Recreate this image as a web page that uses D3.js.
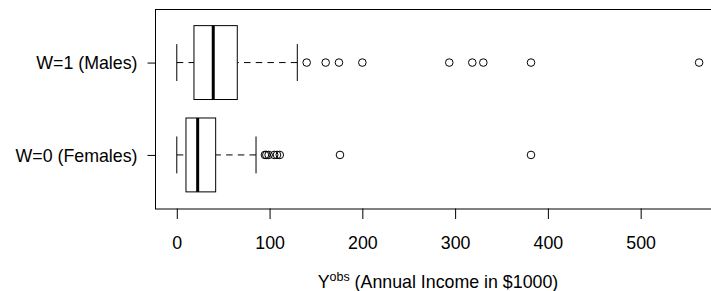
<!DOCTYPE html>
<html lang="en">
<head>
  <meta charset="UTF-8" />
  <title>Annual income by sex</title>
  <script src="https://d3js.org/d3.v7.min.js"></script>
  <style>
    body { margin: 0; background: #fff; }
    svg { display: block; font-family: 'Liberation Sans', Arial, sans-serif; }
    .tick text { font-size: 17.8px; fill: #000; }
    .tick line { stroke: #000; }
  </style>
</head>
<body>
<script>
  // groups, bottom to top (R boxplot order)
  const categories = ["W=0 (Females)", "W=1 (Males)"];
  // five-number stats: lower whisker, Q1, median, Q3, upper whisker
  const femaleStats = [0, 9.9, 22.5, 41.9, 85.4];
  const maleStats = [0, 18.5, 39.3, 65.2, 129.9];
  const femaleOutliers = [95, 96.5, 99, 105, 108, 111, 175.9, 381.8];
  const maleOutliers = [140, 160.5, 174.8, 200, 293.7, 318.5, 330.4, 381.8, 563];
  const xTicks = [0, 100, 200, 300, 400, 500];

  const stats = [femaleStats, maleStats];
  const outliers = [femaleOutliers, maleOutliers];

  const width = 711, height = 291;
  const plotLeft = 155.9, plotTop = 9, plotBottom = 208.5, plotRight = 720;

  const svg = d3.select("body").append("svg")
    .attr("width", width)
    .attr("height", height);

  // R style 4% extension of the data range
  const allVals = stats.flat().concat(outliers.flat());
  const lo = d3.min(allVals), hi = d3.max(allVals);
  const pad = (hi - lo) * 0.04;
  const x = d3.scaleLinear().domain([lo - pad, hi + pad]).range([plotLeft, plotRight]);
  const y = d3.scaleLinear().domain([0.42, 2.58]).range([plotBottom, plotTop]);

  const boxHalf = 0.4, capHalf = 0.2;

  const g = svg.append("g");

  stats.forEach((s, i) => {
    const pos = i + 1;
    const yc = y(pos);
    const yb0 = y(pos - boxHalf), yb1 = y(pos + boxHalf);
    const yc0 = y(pos - capHalf), yc1 = y(pos + capHalf);

    // whiskers, drawn from the cap toward the box
    g.append("line")
      .attr("x1", x(s[0])).attr("x2", x(s[1]))
      .attr("y1", yc).attr("y2", yc)
      .attr("stroke", "#000").attr("stroke-dasharray", "6.5,5.2");
    g.append("line")
      .attr("x1", x(s[4])).attr("x2", x(s[3]))
      .attr("y1", yc).attr("y2", yc)
      .attr("stroke", "#000").attr("stroke-dasharray", "6.5,5.2");

    // caps
    [s[0], s[4]].forEach(v => {
      g.append("line")
        .attr("x1", x(v)).attr("x2", x(v))
        .attr("y1", yc0).attr("y2", yc1)
        .attr("stroke", "#000");
    });

    // box
    g.append("rect")
      .attr("x", x(s[1])).attr("width", x(s[3]) - x(s[1]))
      .attr("y", yb1).attr("height", yb0 - yb1)
      .attr("fill", "#fff").attr("stroke", "#000");

    // median
    g.append("line")
      .attr("x1", x(s[2])).attr("x2", x(s[2]))
      .attr("y1", yb1).attr("y2", yb0)
      .attr("stroke", "#000").attr("stroke-width", 3);

    // outliers
    g.selectAll(null)
      .data(outliers[i])
      .enter().append("circle")
      .attr("cx", d => x(d))
      .attr("cy", yc)
      .attr("r", 3.8)
      .attr("fill", "none")
      .attr("stroke", "#000");
  });

  // frame
  svg.append("rect")
    .attr("x", plotLeft - 0.4).attr("y", plotTop + 0.5)
    .attr("width", plotRight - plotLeft + 10).attr("height", plotBottom - plotTop)
    .attr("fill", "none").attr("stroke", "#000");

  // x axis
  svg.append("g")
    .attr("transform", `translate(0,${plotBottom})`)
    .call(d3.axisBottom(x).tickValues(xTicks).tickSize(10.5).tickPadding(17))
    .call(a => a.select(".domain").remove());

  // y axis
  svg.append("g")
    .attr("transform", `translate(${plotLeft - 0.4},0)`)
    .call(d3.axisLeft(y).tickValues([1, 2]).tickFormat((d, i) => categories[i]).tickSize(8).tickPadding(10))
    .call(a => a.select(".domain").remove())
    .selectAll("text").attr("dy", "0.36em");

  // x title
  const title = svg.append("text")
    .attr("x", (plotLeft + plotRight) / 2)
    .attr("y", 288)
    .attr("text-anchor", "middle")
    .attr("font-size", 17.8)
    .attr("fill", "#000");
  title.append("tspan").text("Y");
  title.append("tspan").attr("font-size", 12.5).attr("dy", -7).text("obs");
  title.append("tspan").attr("dy", 7).text(" (Annual Income in $1000)");
</script>
</body>
</html>
